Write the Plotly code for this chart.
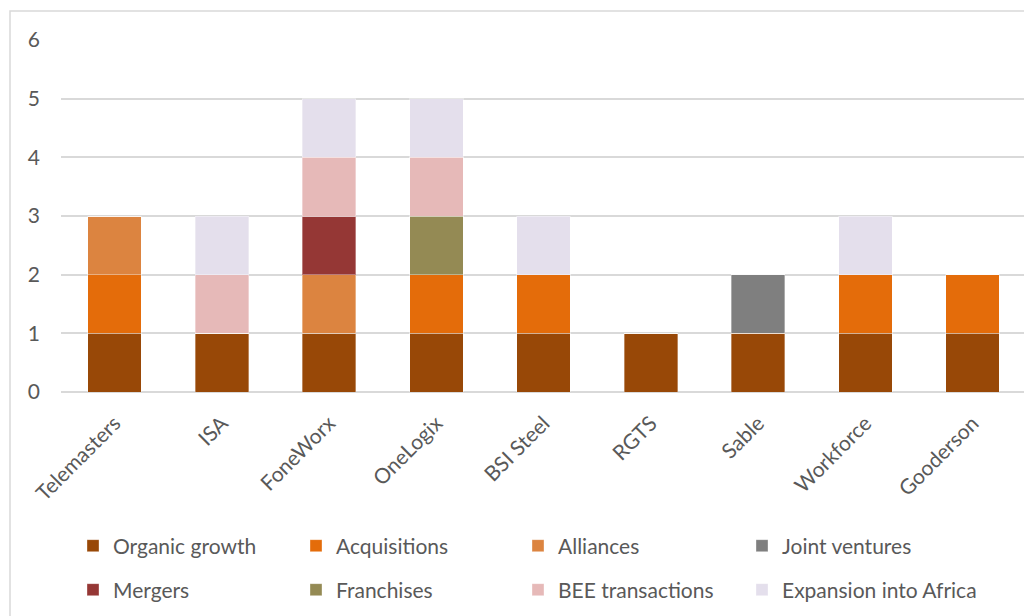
import plotly.graph_objects as go

companies = ["Telemasters", "ISA", "FoneWorx", "OneLogix", "BSI Steel", "RGTS", "Sable", "Workforce", "Gooderson"]

organic_growth = [1, 1, 1, 1, 1, 1, 1, 1, 1]
acquisitions = [1, 0, 0, 1, 1, 0, 0, 1, 1]
alliances = [1, 0, 1, 0, 0, 0, 0, 0, 0]
joint_ventures = [0, 0, 0, 0, 0, 0, 1, 0, 0]
mergers = [0, 0, 1, 0, 0, 0, 0, 0, 0]
franchises = [0, 0, 0, 1, 0, 0, 0, 0, 0]
bee_transactions = [0, 1, 1, 1, 0, 0, 0, 0, 0]
expansion_africa = [0, 1, 1, 1, 1, 0, 0, 1, 0]

series_names = ["Organic growth", "Acquisitions", "Alliances", "Joint ventures",
                "Mergers", "Franchises", "BEE transactions", "Expansion into Africa"]
series_values = [organic_growth, acquisitions, alliances, joint_ventures,
                 mergers, franchises, bee_transactions, expansion_africa]
series_colors = ["#984807", "#E46C0A", "#DC8440", "#7F7F7F",
                 "#953735", "#948A54", "#E6B9B8", "#E4DFEC"]

FONT = "Lato"
FS = 21
GREY = "#595959"
GRID = "#D9D9D9"

W, H = 1024, 616
ml, mr, mt, mb = 61, 0, 40, 224
pw = W - ml - mr
ph = H - mt - mb

def px_x(x):
    return (x - ml) / pw

def px_y(y):
    return (H - mb - y) / ph

legend_cols_px = [73, 296, 518, 742]
legend_rows_px = [546, 590]

fig = go.Figure()
legends = {}
for i, (name, vals, color) in enumerate(zip(series_names, series_values, series_colors)):
    key = "legend" if i == 0 else f"legend{i + 1}"
    fig.add_trace(go.Bar(
        x=companies, y=vals, name=name, legend=key, showlegend=True,
        marker=dict(color=color, line=dict(color="rgba(255,255,255,0.35)", width=1)),
    ))
    legends[key] = dict(
        x=px_x(legend_cols_px[i % 4]), y=px_y(legend_rows_px[i // 4]),
        xanchor="left", yanchor="middle", orientation="h",
        font=dict(family=FONT, size=FS, color=GREY),
        bgcolor="rgba(0,0,0,0)", borderwidth=0, visible=True,
    )

fig.update_layout(
    width=W, height=H, showlegend=True,
    margin=dict(l=ml, r=mr, t=mt, b=mb, autoexpand=False),
    paper_bgcolor="white", plot_bgcolor="white",
    barmode="stack", bargap=0.5,
    font=dict(family=FONT, size=FS, color=GREY),
    xaxis=dict(
        range=[-0.5, -0.5 + pw / 107.25], tickangle=-45, showgrid=False,
        showline=False, zeroline=False, automargin=False,
        ticklabelstandoff=14,
        tickfont=dict(family=FONT, size=FS, color=GREY),
    ),
    yaxis=dict(
        range=[0, 6], dtick=1, showgrid=True, gridcolor=GRID, gridwidth=1.5,
        zeroline=True, zerolinecolor=GRID, zerolinewidth=1.5, showline=False,
        automargin=False, ticklabelstandoff=20,
        tickfont=dict(family=FONT, size=FS, color=GREY),
    ),
    shapes=[dict(
        type="rect", xref="paper", yref="paper",
        x0=px_x(10), x1=px_x(1040), y0=px_y(640), y1=px_y(11),
        line=dict(color=GRID, width=1.5), fillcolor="rgba(0,0,0,0)", layer="below",
    )],
    **legends,
)

fig.write_html("out.html")
